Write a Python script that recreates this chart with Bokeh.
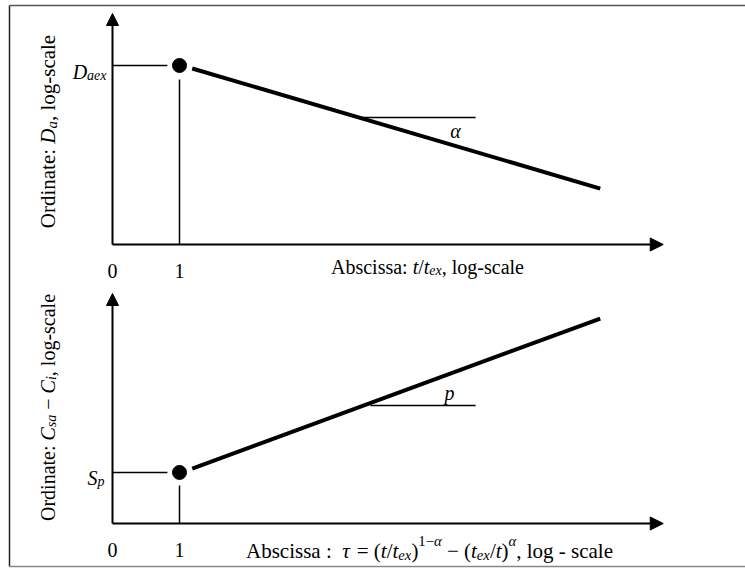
import math
from bokeh.plotting import figure
from bokeh.models import Range1d, Arrow, NormalHead
from bokeh.core.properties import value
from bokeh.embed import file_html
from bokeh.resources import INLINE

# ---------------- data (schematic, log-scale units) ----------------
tick_positions = [0, 1]
tick_labels = ["0", "1"]

# top panel: D_a versus t/t_ex
top_x_axis_end = 8.22
top_y_axis_end = 10.0
D_aex = 7.75
top_drop_y = 7.14          # top of the thin line under the dot
top_lead_x = [0.0, 0.82]   # thin line from the axis to the dot
top_line_x = [1.19, 7.28]
top_line_y = [7.62, 2.42]
alpha_mark_x = [3.70, 5.42]
alpha_mark_y = [5.50, 5.50]

# bottom panel: C_sa - C_i versus tau
bot_x_axis_end = 8.22
bot_y_axis_end = 10.0
S_p = 2.22
bot_drop_y = 1.65
bot_lead_x = [0.0, 0.82]
bot_line_x = [1.19, 7.28]
bot_line_y = [2.39, 8.91]
p_mark_x = [3.85, 5.42]
p_mark_y = [5.13, 5.13]

# ---------------- layout ----------------
W, H = 745, 568
FX0, FY0 = 0, 0
OX, UX = 112, 67.0
OY_T, UY_T = 244, 23.1
OY_B, UY_B = 523, 23.0

x_rng = Range1d((FX0 - OX) / UX, (FX0 + W - OX) / UX)
top_rng = Range1d((OY_T - (FY0 + H)) / UY_T, (OY_T - FY0) / UY_T)
bot_rng = Range1d((OY_B - (FY0 + H)) / UY_B, (OY_B - FY0) / UY_B)

p = figure(width=W, height=H, x_range=x_rng, y_range=top_rng,
           output_backend="svg", toolbar_location=None, min_border=0,
           x_axis_type=None, y_axis_type=None)
p.extra_y_ranges = {"bot": bot_rng}
p.grid.visible = False
p.outline_line_color = None
p.background_fill_color = "white"
p.border_fill_color = "white"

FONT = "Liberation Serif"
REG = {' ': 250, '(': 333, ')': 333, ',': 250, '-': 333, '.': 250, '/': 278,
       '0': 500, '1': 500, ':': 278, '=': 564, 'A': 722, 'C': 667, 'D': 722,
       'O': 722, 'S': 556, 'a': 444, 'b': 500, 'c': 444, 'd': 500, 'e': 444,
       'g': 500, 'i': 278, 'l': 278, 'n': 500, 'o': 500, 'p': 500, 'r': 333,
       's': 389, 't': 278, 'x': 500, '\u2212': 564, '\u03b1': 520, '\u03c4': 440}
ITA = {'C': 667, 'D': 722, 'S': 500, 'a': 500, 'e': 444, 'i': 278, 'p': 500,
       's': 389, 't': 278, 'x': 444, '\u03b1': 520, '\u03c4': 440}


def width(s, ital, size):
    tab = ITA if ital else REG
    return sum(tab.get(c, REG.get(c, 500)) for c in s) / 1000.0 * size


def gx(px):
    return (px - OX) / UX


def gy(py, panel):
    return (OY_T - py) / UY_T if panel == "top" else (OY_B - py) / UY_B


def rich(pieces, ax, ay, panel, size, align="center", rotate=False):
    """pieces: (text, italic, level) ; level 0 normal, -1 sub, +1 sup.
    (ax, ay) page-pixel anchor on the baseline."""
    sizes, widths = [], []
    for t, it, lv in pieces:
        s = size * (0.7 if lv else 1.0)
        sizes.append(s)
        widths.append(width(t, it, s))
    total = sum(widths)
    start = {"left": 0, "center": -total / 2, "right": -total}[align]
    off = start
    yname = "default" if panel == "top" else "bot"
    for (t, it, lv), s, w in zip(pieces, sizes, widths):
        shift = {0: 0, -1: -0.22 * size, 1: 0.45 * size}[lv]
        body = t.lstrip(" ")
        lead = width(t[:len(t) - len(body)], it, s)
        body = body.rstrip(" ")
        if body:
            o = off + lead
            if rotate:
                px, py, ang = ax - shift, ay - o, math.pi / 2
            else:
                px, py, ang = ax + o, ay - shift, 0
            p.text(x=[gx(px)], y=[gy(py, panel)], text=[body], angle=ang,
                   text_font=value(FONT), text_font_size=f"{s:.1f}px",
                   text_font_style="italic" if it else "normal",
                   text_align="left", text_baseline="alphabetic",
                   text_color="black", y_range_name=yname)
        off += w


def axes(xend, yend, yname):
    p.add_layout(Arrow(end=NormalHead(size=12, fill_color="black", line_color="black"),
                       x_start=0, y_start=0, x_end=0, y_end=yend,
                       line_width=2, line_color="black", y_range_name=yname))
    p.add_layout(Arrow(end=NormalHead(size=13, fill_color="black", line_color="black"),
                       x_start=0, y_start=0, x_end=xend, y_end=0,
                       line_width=2, line_color="black", y_range_name=yname))


# ---------------- frame ----------------
fx = gx(9)
p.line([fx, fx], [gy(5, "top"), gy(566, "top")], line_color="#222222", line_width=1.5)
p.line([fx, x_rng.end], [gy(5, "top"), gy(5, "top")], line_color="#555555", line_width=1.5)
p.line([fx, x_rng.end], [gy(566, "top"), gy(566, "top")], line_color="#888888", line_width=1.5)

# ---------------- top panel ----------------
axes(top_x_axis_end, top_y_axis_end, "default")
p.line(top_lead_x, [D_aex, D_aex], line_color="black", line_width=1.5)
p.line([1, 1], [0, top_drop_y], line_color="black", line_width=1.5)
p.scatter([1], [D_aex], size=14, color="black")
p.line(top_line_x, top_line_y, line_color="black", line_width=4)
p.line(alpha_mark_x, alpha_mark_y, line_color="black", line_width=1.5)

# ---------------- bottom panel ----------------
axes(bot_x_axis_end, bot_y_axis_end, "bot")
p.line(bot_lead_x, [S_p, S_p], line_color="black", line_width=1.5, y_range_name="bot")
p.line([1, 1], [0, bot_drop_y], line_color="black", line_width=1.5, y_range_name="bot")
p.scatter([1], [S_p], size=14, color="black", y_range_name="bot")
p.line(bot_line_x, bot_line_y, line_color="black", line_width=4, y_range_name="bot")
p.line(p_mark_x, p_mark_y, line_color="black", line_width=1.5, y_range_name="bot")

# ---------------- texts ----------------
FS = 20
for tx, tl in zip(tick_positions, tick_labels):
    p.text(x=[tx], y=[gy(270, "top")], text=[tl], text_font=value(FONT),
           text_font_size=f"{FS}px", text_align="center", text_baseline="alphabetic")
    p.text(x=[tx], y=[gy(549, "bot")], text=[tl], text_font=value(FONT),
           text_font_size=f"{FS}px", text_align="center", text_baseline="alphabetic",
           y_range_name="bot")

rich([("Abscissa: ", False, 0), ("t", True, 0), ("/", False, 0), ("t", True, 0),
      ("ex", True, -1), (", log-scale", False, 0)], 427, 266, "top", FS)

rich([("Abscissa :  ", False, 0), ("\u03c4", True, 0), (" = (", False, 0),
      ("t", True, 0), ("/", False, 0), ("t", True, 0), ("ex", True, -1),
      (")", False, 0), ("1\u2212", False, 1), ("\u03b1", True, 1),
      (" \u2212 (", False, 0), ("t", True, 0), ("ex", True, -1), ("/", False, 0),
      ("t", True, 0), (")", False, 0), ("\u03b1", True, 1),
      (", log - scale", False, 0)], 429, 550, "bot", 21)

rich([("Ordinate: ", False, 0), ("D", True, 0), ("a", True, -1),
      (", log-scale", False, 0)], 47, 131, "top", 21, rotate=True)

rich([("Ordinate: ", False, 0), ("C", True, 0), ("sa", True, -1),
      (" \u2212 ", False, 0), ("C", True, 0), ("i", True, -1),
      (", log-scale", False, 0)], 47, 407, "bot", FS, rotate=True)

rich([("D", True, 0), ("aex", True, -1)], 106, 71, "top", 20, align="right")
rich([("S", True, 0), ("p", True, -1)], 104, 477, "bot", 20, align="right")

rich([("\u03b1", True, 0)], 455, 130, "top", 20)
rich([("p", True, 0)], 449, 392, "bot", 20)

open("out.html", "w").write(file_html(p, INLINE))
